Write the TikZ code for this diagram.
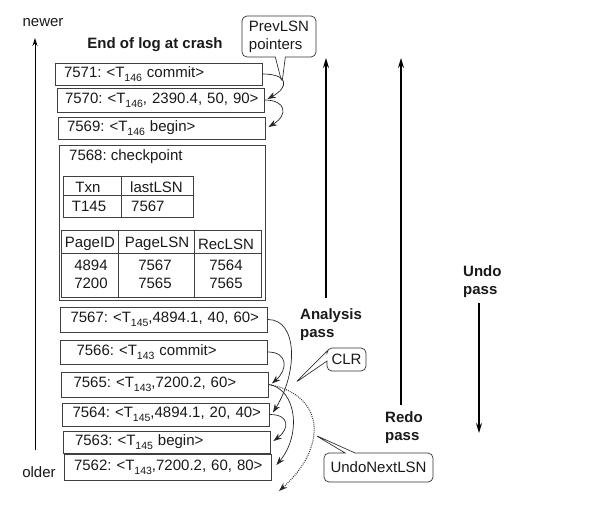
\documentclass[tikz,border=0pt]{standalone}
\usepackage{fontspec}
\setmainfont{Liberation Sans}
\usetikzlibrary{arrows.meta, shapes.callouts}
\newcommand{\basefont}{\fontsize{15}{18}\selectfont\frenchspacing}
\newcommand{\Tx}[1]{T\raisebox{-0.25em}{\fontsize{10.5}{12}\selectfont #1}}
\tikzset{
  every node/.style={font=\basefont, text=black!90},
  log record/.style={draw=black!75, line width=0.9pt, minimum width=207pt, text width=197pt, inner xsep=5pt, inner ysep=0pt, align=left},
  table line/.style={draw=black!75, line width=0.8pt},
  prev pointer/.style={->, line width=0.7pt, black!85},
  undo pointer/.style={->, line width=1.1pt, dash pattern=on 0.8pt off 1.2pt, black!85},
  pass line/.style={line width=1.4pt, -{Stealth[length=10pt,width=6pt]}},
  pass label/.style={font=\basefont\bfseries, align=left, anchor=west, inner sep=0pt},
  note box/.style={rectangle callout, draw=black!80, line width=0.7pt, rounded corners=5pt, align=left, inner sep=2pt, callout pointer width=10pt},
  >={Stealth[length=8.5pt,width=6pt]},
}

\begin{document}
\begin{tikzpicture}[x=1pt, y=-1pt]
  \useasboundingbox (0,0) rectangle (594,531);

  % time axis on the left
  \node (newer) at (43,23) {newer};
  \node (older) at (39,472) {older};
  \coordinate (axisbot) at (35,450);
  \coordinate (axistop) at (35,38);
  \draw[line width=0.8pt, -{Stealth[length=8pt,width=5pt]}] (axisbot) -- (axistop);

  \node[font=\basefont\bfseries] (crash) at (155,45) {End of log at crash};

  % log records
  \node[log record, minimum height=22pt] (r7571) at (158.5,74) {\hspace*{4pt}7571: <\Tx{146} commit>};
  \node[log record, minimum height=24pt] (r7570) at (160.5,100) {\hspace*{3pt}7570: <\Tx{146}, 2390.4, 50, 90>};
  \node[log record, minimum height=22pt] (r7569) at (161.5,128) {\hspace*{4pt}7569: <\Tx{146} begin>};

  % checkpoint record
  \node[draw=black!75, line width=0.9pt, minimum width=206pt, minimum height=155pt] (ckpt) at (162,222.5) {};
  \node[anchor=west, inner sep=0pt] (ckpttitle) at (69,157) {7568: checkpoint};
  \draw[table line] (63,176) rectangle (193,217);
  \draw[table line] (121,176) -- (121,217) (63,195) -- (193,195);
  \node (txnhead) at (88,187) {Txn};
  \node (txnval) at (89,206) {T145};
  \node[anchor=west, inner sep=0pt] (lsnhead) at (130,187) {lastLSN};
  \node[anchor=west, inner sep=0pt] (lsnval) at (131,206) {7567};
  \draw[table line] (61,230) rectangle (261,297);
  \draw[table line] (118,230) -- (118,297) (194,230) -- (194,297) (61,253) -- (261,253);
  \node (pidhead) at (90,244) {PageID};
  \node (plsnhead) at (157,244) {PageLSN};
  \node (rlsnhead) at (226,244) {RecLSN};
  \node (pid1) at (91,265) {4894};
  \node (plsn1) at (155,265) {7567};
  \node (rlsn1) at (226,265) {7564};
  \node (pid2) at (91,283) {7200};
  \node (plsn2) at (155,283) {7565};
  \node (rlsn2) at (226,283) {7565};

  \node[log record, minimum height=25pt] (r7567) at (164,319.5) {\hspace*{5pt}7567: <\Tx{145},4894.1, 40, 60>};
  \node[log record, minimum height=24pt] (r7566) at (164,352) {\hspace*{11pt}7566: <\Tx{143} commit>};
  \node[log record, minimum height=25pt] (r7565) at (165,384.5) {\hspace*{7pt}7565: <\Tx{143},7200.2, 60>};
  \node[log record, minimum height=23pt] (r7564) at (166,414.5) {\hspace*{5pt}7564: <\Tx{145},4894.1, 20, 40>};
  \node[log record, minimum height=22pt] (r7563) at (166.5,442) {\hspace*{7pt}7563: <\Tx{145} begin>};
  \node[log record, minimum height=26pt] (r7562) at (167.5,467) {\hspace*{5pt}7562: <\Tx{143},7200.2, 60, 80>};

  % PrevLSN chains
  \draw[prev pointer] (r7571.east) .. controls +(26,0) and +(22,-12) .. ([xshift=3pt,yshift=1pt]r7570.east);
  \draw[prev pointer] (r7570.east) .. controls +(22,0) and +(20,-12) .. ([xshift=3pt,yshift=1pt]r7569.east);
  \draw[prev pointer] (r7567.east) .. controls +(30,0) and +(25,-40) .. ([xshift=3pt,yshift=2pt]r7564.east);
  \draw[prev pointer] (r7566.east) .. controls +(20,0) and +(16,-14) .. ([xshift=3pt,yshift=1pt]r7565.east);
  \draw[prev pointer] (r7565.east) .. controls +(28,5) and +(25,-30) .. ([xshift=5pt,yshift=2pt]r7562.east);
  \draw[prev pointer] (r7564.east) .. controls +(20,0) and +(16,-12) .. ([xshift=3pt,yshift=1pt]r7563.east);

  % UndoNextLSN of the CLR
  \coordinate (undoend) at (279,491);
  \draw[undo pointer] (r7565.east) .. controls +(55,10) and +(50,-45) .. (undoend);

  % callouts
  \coordinate (prevtip) at (282,83);
  \coordinate (clrtip) at (295,383);
  \coordinate (undotip) at (315,435);
  \node[note box, minimum width=74pt, minimum height=41pt, callout absolute pointer={(prevtip)}] (prevnote) at (279,36.5) {PrevLSN\\pointers};
  \node[note box, minimum width=39pt, minimum height=23pt, callout absolute pointer={(clrtip)}] (clrnote) at (346.5,359.5) {CLR};
  \node[note box, minimum width=109pt, minimum height=29pt, callout absolute pointer={(undotip)}] (undonote) at (378.5,467.5) {UndoNextLSN};

  % the three passes
  \coordinate (analysisbot) at (326,298);
  \coordinate (analysistop) at (326,58);
  \draw[pass line] (analysisbot) -- (analysistop);
  \node[pass label] (analysis) at (300,325) {Analysis\\pass};
  \coordinate (redobot) at (401,405);
  \coordinate (redotop) at (401,58);
  \draw[pass line] (redobot) -- (redotop);
  \node[pass label] (redo) at (385,428) {Redo\\pass};
  \coordinate (undotop) at (479,303);
  \coordinate (undobot) at (479,433);
  \draw[pass line] (undotop) -- (undobot);
  \node[pass label] (undo) at (463,282) {Undo\\pass};
\end{tikzpicture}
\end{document}
